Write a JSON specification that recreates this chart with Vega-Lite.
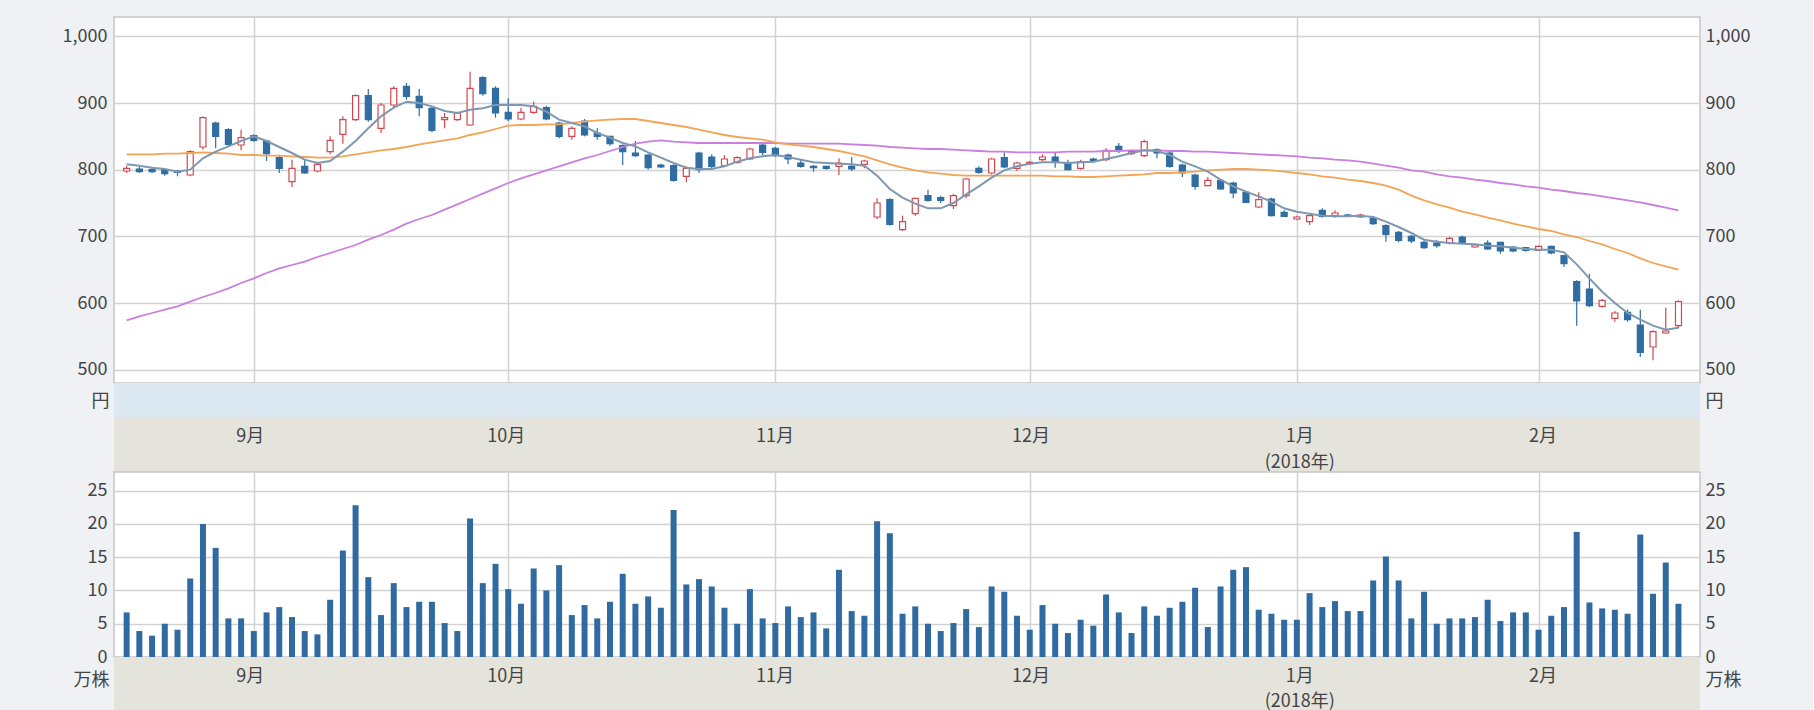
{
"$schema":"https://vega.github.io/schema/vega-lite/v6.json",
"background":"#eff1f5",
"padding":{"left":0,"top":16,"right":0,"bottom":0},
"autosize":{"type":"pad"},
"bounds":"flush",
"spacing":0,
"config":{"font":"Noto Sans CJK JP","axis":{"labelColor":"#444444","titleColor":"#444444","labelFontSize":18,"titleFontSize":18,"titleFontWeight":"normal","labelFont":"Noto Sans CJK JP","titleFont":"Noto Sans CJK JP"}},
"datasets":{
"m":[{"i":10},{"i":30},{"i":51},{"i":71},{"i":92},{"i":111}],
"p":[
{"i":0,"date":"2017-08-18","o":798,"h":806,"l":795,"c":802,"v":6.7,"m5":808,"m25":823,"m75":574},
{"i":1,"date":"2017-08-21","o":801,"h":804,"l":795,"c":797,"v":3.9,"m5":806,"m25":823,"m75":580},
{"i":2,"date":"2017-08-22","o":800,"h":803,"l":795,"c":797,"v":3.2,"m5":803,"m25":823,"m75":585},
{"i":3,"date":"2017-08-23","o":800,"h":802,"l":791,"c":794,"v":5.0,"m5":801,"m25":824,"m75":590},
{"i":4,"date":"2017-08-24","o":798,"h":799,"l":790,"c":796,"v":4.1,"m5":797,"m25":824,"m75":595},
{"i":5,"date":"2017-08-25","o":792,"h":829,"l":790,"c":827,"v":11.8,"m5":800,"m25":825,"m75":602},
{"i":6,"date":"2017-08-28","o":834,"h":880,"l":830,"c":878,"v":20.0,"m5":817,"m25":826,"m75":609},
{"i":7,"date":"2017-08-29","o":870,"h":872,"l":832,"c":850,"v":16.4,"m5":827,"m25":825,"m75":615},
{"i":8,"date":"2017-08-30","o":860,"h":862,"l":835,"c":838,"v":5.8,"m5":835,"m25":824,"m75":622},
{"i":9,"date":"2017-08-31","o":837,"h":860,"l":829,"c":848,"v":5.8,"m5":843,"m25":822,"m75":630},
{"i":10,"date":"2017-09-01","o":851,"h":853,"l":842,"c":844,"v":3.9,"m5":850,"m25":822,"m75":637},
{"i":11,"date":"2017-09-04","o":843,"h":845,"l":813,"c":824,"v":6.7,"m5":843,"m25":821,"m75":645},
{"i":12,"date":"2017-09-05","o":818,"h":820,"l":795,"c":802,"v":7.5,"m5":834,"m25":821,"m75":652},
{"i":13,"date":"2017-09-06","o":782,"h":815,"l":774,"c":802,"v":6.0,"m5":825,"m25":820,"m75":657},
{"i":14,"date":"2017-09-07","o":805,"h":815,"l":794,"c":795,"v":3.9,"m5":815,"m25":819,"m75":662},
{"i":15,"date":"2017-09-08","o":798,"h":812,"l":796,"c":808,"v":3.4,"m5":810,"m25":818,"m75":669},
{"i":16,"date":"2017-09-11","o":827,"h":850,"l":823,"c":844,"v":8.6,"m5":813,"m25":818,"m75":675},
{"i":17,"date":"2017-09-12","o":853,"h":880,"l":839,"c":875,"v":16.0,"m5":827,"m25":820,"m75":681},
{"i":18,"date":"2017-09-13","o":875,"h":913,"l":873,"c":911,"v":22.8,"m5":843,"m25":823,"m75":687},
{"i":19,"date":"2017-09-14","o":911,"h":921,"l":872,"c":875,"v":12.0,"m5":862,"m25":826,"m75":695},
{"i":20,"date":"2017-09-15","o":862,"h":900,"l":855,"c":897,"v":6.3,"m5":880,"m25":829,"m75":702},
{"i":21,"date":"2017-09-19","o":897,"h":925,"l":893,"c":922,"v":11.1,"m5":893,"m25":831,"m75":710},
{"i":22,"date":"2017-09-20","o":925,"h":930,"l":905,"c":910,"v":7.5,"m5":902,"m25":834,"m75":719},
{"i":23,"date":"2017-09-21","o":910,"h":921,"l":880,"c":893,"v":8.3,"m5":900,"m25":838,"m75":726},
{"i":24,"date":"2017-09-22","o":892,"h":894,"l":856,"c":859,"v":8.3,"m5":895,"m25":841,"m75":732},
{"i":25,"date":"2017-09-25","o":875,"h":885,"l":862,"c":878,"v":5.1,"m5":888,"m25":844,"m75":740},
{"i":26,"date":"2017-09-26","o":875,"h":887,"l":873,"c":885,"v":3.9,"m5":885,"m25":847,"m75":748},
{"i":27,"date":"2017-09-27","o":867,"h":947,"l":866,"c":922,"v":20.8,"m5":890,"m25":852,"m75":756},
{"i":28,"date":"2017-09-28","o":938,"h":940,"l":911,"c":914,"v":11.1,"m5":892,"m25":856,"m75":764},
{"i":29,"date":"2017-09-29","o":922,"h":925,"l":878,"c":885,"v":14.0,"m5":897,"m25":861,"m75":772},
{"i":30,"date":"2017-10-02","o":886,"h":907,"l":873,"c":876,"v":10.2,"m5":897,"m25":866,"m75":780},
{"i":31,"date":"2017-10-03","o":876,"h":893,"l":874,"c":886,"v":8.0,"m5":897,"m25":867,"m75":787},
{"i":32,"date":"2017-10-04","o":886,"h":902,"l":884,"c":895,"v":13.3,"m5":895,"m25":867,"m75":793},
{"i":33,"date":"2017-10-05","o":893,"h":896,"l":874,"c":876,"v":10.0,"m5":887,"m25":868,"m75":799},
{"i":34,"date":"2017-10-06","o":870,"h":872,"l":847,"c":850,"v":13.8,"m5":875,"m25":868,"m75":805},
{"i":35,"date":"2017-10-10","o":850,"h":865,"l":845,"c":862,"v":6.3,"m5":870,"m25":870,"m75":811},
{"i":36,"date":"2017-10-11","o":873,"h":876,"l":850,"c":852,"v":7.8,"m5":865,"m25":872,"m75":817},
{"i":37,"date":"2017-10-12","o":855,"h":862,"l":845,"c":850,"v":5.8,"m5":855,"m25":874,"m75":822},
{"i":38,"date":"2017-10-13","o":850,"h":851,"l":836,"c":839,"v":8.3,"m5":848,"m25":875,"m75":828},
{"i":39,"date":"2017-10-16","o":836,"h":838,"l":807,"c":827,"v":12.5,"m5":840,"m25":876,"m75":834},
{"i":40,"date":"2017-10-17","o":825,"h":843,"l":819,"c":821,"v":8.0,"m5":835,"m25":876,"m75":839},
{"i":41,"date":"2017-10-18","o":822,"h":824,"l":800,"c":803,"v":9.1,"m5":826,"m25":873,"m75":842},
{"i":42,"date":"2017-10-19","o":807,"h":809,"l":802,"c":804,"v":7.4,"m5":818,"m25":870,"m75":844},
{"i":43,"date":"2017-10-20","o":806,"h":808,"l":782,"c":784,"v":22.1,"m5":810,"m25":867,"m75":842},
{"i":44,"date":"2017-10-23","o":790,"h":805,"l":781,"c":802,"v":10.9,"m5":803,"m25":864,"m75":841},
{"i":45,"date":"2017-10-24","o":825,"h":827,"l":795,"c":800,"v":11.7,"m5":801,"m25":860,"m75":840},
{"i":46,"date":"2017-10-25","o":819,"h":823,"l":800,"c":805,"v":10.6,"m5":801,"m25":856,"m75":840},
{"i":47,"date":"2017-10-26","o":806,"h":822,"l":804,"c":816,"v":7.4,"m5":805,"m25":852,"m75":840},
{"i":48,"date":"2017-10-27","o":811,"h":820,"l":809,"c":818,"v":5.0,"m5":812,"m25":849,"m75":840},
{"i":49,"date":"2017-10-30","o":816,"h":833,"l":814,"c":831,"v":10.2,"m5":817,"m25":847,"m75":840},
{"i":50,"date":"2017-10-31","o":837,"h":840,"l":822,"c":826,"v":5.8,"m5":820,"m25":845,"m75":840},
{"i":51,"date":"2017-11-01","o":832,"h":834,"l":819,"c":821,"v":5.1,"m5":822,"m25":841,"m75":840},
{"i":52,"date":"2017-11-02","o":822,"h":824,"l":808,"c":816,"v":7.6,"m5":819,"m25":838,"m75":839},
{"i":53,"date":"2017-11-06","o":810,"h":816,"l":803,"c":805,"v":6.0,"m5":815,"m25":836,"m75":839},
{"i":54,"date":"2017-11-07","o":805,"h":807,"l":797,"c":803,"v":6.7,"m5":811,"m25":834,"m75":839},
{"i":55,"date":"2017-11-08","o":805,"h":806,"l":800,"c":802,"v":4.3,"m5":810,"m25":831,"m75":839},
{"i":56,"date":"2017-11-09","o":805,"h":817,"l":792,"c":810,"v":13.1,"m5":809,"m25":828,"m75":839},
{"i":57,"date":"2017-11-10","o":805,"h":819,"l":798,"c":801,"v":6.9,"m5":808,"m25":824,"m75":838},
{"i":58,"date":"2017-11-13","o":808,"h":815,"l":802,"c":813,"v":6.2,"m5":806,"m25":820,"m75":837},
{"i":59,"date":"2017-11-14","o":729,"h":757,"l":726,"c":750,"v":20.4,"m5":791,"m25":814,"m75":836},
{"i":60,"date":"2017-11-15","o":755,"h":757,"l":716,"c":718,"v":18.6,"m5":771,"m25":808,"m75":834},
{"i":61,"date":"2017-11-16","o":710,"h":731,"l":708,"c":722,"v":6.5,"m5":758,"m25":803,"m75":833},
{"i":62,"date":"2017-11-17","o":734,"h":758,"l":731,"c":757,"v":7.6,"m5":749,"m25":799,"m75":832},
{"i":63,"date":"2017-11-20","o":761,"h":770,"l":752,"c":754,"v":5.0,"m5":742,"m25":796,"m75":831},
{"i":64,"date":"2017-11-21","o":758,"h":761,"l":750,"c":754,"v":3.9,"m5":742,"m25":794,"m75":831},
{"i":65,"date":"2017-11-22","o":746,"h":764,"l":741,"c":761,"v":5.1,"m5":750,"m25":792,"m75":830},
{"i":66,"date":"2017-11-24","o":761,"h":788,"l":757,"c":786,"v":7.2,"m5":763,"m25":791,"m75":829},
{"i":67,"date":"2017-11-27","o":802,"h":805,"l":794,"c":796,"v":4.5,"m5":775,"m25":791,"m75":828},
{"i":68,"date":"2017-11-28","o":795,"h":818,"l":793,"c":816,"v":10.6,"m5":788,"m25":791,"m75":827},
{"i":69,"date":"2017-11-29","o":818,"h":826,"l":802,"c":804,"v":9.8,"m5":799,"m25":791,"m75":827},
{"i":70,"date":"2017-11-30","o":802,"h":812,"l":798,"c":810,"v":6.2,"m5":805,"m25":791,"m75":826},
{"i":71,"date":"2017-12-01","o":809,"h":813,"l":807,"c":811,"v":4.1,"m5":809,"m25":791,"m75":826},
{"i":72,"date":"2017-12-04","o":815,"h":823,"l":813,"c":819,"v":7.8,"m5":811,"m25":791,"m75":826},
{"i":73,"date":"2017-12-05","o":819,"h":826,"l":803,"c":812,"v":5.0,"m5":811,"m25":790,"m75":826},
{"i":74,"date":"2017-12-06","o":810,"h":815,"l":799,"c":800,"v":3.6,"m5":810,"m25":790,"m75":827},
{"i":75,"date":"2017-12-07","o":802,"h":815,"l":800,"c":812,"v":5.6,"m5":811,"m25":789,"m75":827},
{"i":76,"date":"2017-12-08","o":816,"h":818,"l":811,"c":813,"v":4.7,"m5":812,"m25":789,"m75":827},
{"i":77,"date":"2017-12-11","o":815,"h":832,"l":813,"c":829,"v":9.4,"m5":816,"m25":790,"m75":828},
{"i":78,"date":"2017-12-12","o":835,"h":840,"l":825,"c":829,"v":6.7,"m5":820,"m25":791,"m75":828},
{"i":79,"date":"2017-12-13","o":824,"h":830,"l":822,"c":827,"v":3.6,"m5":825,"m25":792,"m75":829},
{"i":80,"date":"2017-12-14","o":821,"h":845,"l":819,"c":842,"v":7.6,"m5":829,"m25":793,"m75":829},
{"i":81,"date":"2017-12-15","o":830,"h":832,"l":817,"c":825,"v":6.2,"m5":828,"m25":795,"m75":829},
{"i":82,"date":"2017-12-18","o":825,"h":827,"l":803,"c":805,"v":7.4,"m5":822,"m25":795,"m75":828},
{"i":83,"date":"2017-12-19","o":807,"h":809,"l":789,"c":795,"v":8.3,"m5":812,"m25":796,"m75":828},
{"i":84,"date":"2017-12-20","o":792,"h":794,"l":770,"c":775,"v":10.4,"m5":805,"m25":797,"m75":827},
{"i":85,"date":"2017-12-21","o":776,"h":789,"l":775,"c":784,"v":4.5,"m5":797,"m25":799,"m75":827},
{"i":86,"date":"2017-12-22","o":784,"h":786,"l":770,"c":771,"v":10.6,"m5":785,"m25":800,"m75":826},
{"i":87,"date":"2017-12-25","o":780,"h":782,"l":757,"c":765,"v":13.1,"m5":775,"m25":801,"m75":825},
{"i":88,"date":"2017-12-26","o":766,"h":768,"l":750,"c":751,"v":13.5,"m5":767,"m25":801,"m75":824},
{"i":89,"date":"2017-12-27","o":744,"h":766,"l":742,"c":755,"v":7.1,"m5":760,"m25":800,"m75":823},
{"i":90,"date":"2017-12-28","o":756,"h":758,"l":730,"c":731,"v":6.5,"m5":752,"m25":799,"m75":822},
{"i":91,"date":"2017-12-29","o":736,"h":739,"l":729,"c":730,"v":5.6,"m5":742,"m25":797,"m75":821},
{"i":92,"date":"2018-01-04","o":726,"h":731,"l":724,"c":729,"v":5.6,"m5":737,"m25":795,"m75":820},
{"i":93,"date":"2018-01-05","o":722,"h":733,"l":717,"c":731,"v":9.6,"m5":734,"m25":793,"m75":818},
{"i":94,"date":"2018-01-09","o":739,"h":742,"l":728,"c":730,"v":7.5,"m5":731,"m25":790,"m75":817},
{"i":95,"date":"2018-01-10","o":731,"h":739,"l":728,"c":735,"v":8.4,"m5":730,"m25":788,"m75":815},
{"i":96,"date":"2018-01-11","o":732,"h":734,"l":729,"c":731,"v":6.9,"m5":730,"m25":785,"m75":814},
{"i":97,"date":"2018-01-12","o":729,"h":734,"l":728,"c":732,"v":6.9,"m5":731,"m25":783,"m75":812},
{"i":98,"date":"2018-01-15","o":727,"h":730,"l":717,"c":719,"v":11.5,"m5":729,"m25":780,"m75":809},
{"i":99,"date":"2018-01-16","o":716,"h":718,"l":692,"c":703,"v":15.1,"m5":722,"m25":776,"m75":806},
{"i":100,"date":"2018-01-17","o":706,"h":708,"l":691,"c":694,"v":11.5,"m5":714,"m25":770,"m75":803},
{"i":101,"date":"2018-01-18","o":700,"h":702,"l":690,"c":693,"v":5.8,"m5":705,"m25":761,"m75":799},
{"i":102,"date":"2018-01-19","o":691,"h":693,"l":681,"c":683,"v":9.8,"m5":695,"m25":754,"m75":797},
{"i":103,"date":"2018-01-22","o":690,"h":695,"l":683,"c":686,"v":5.0,"m5":692,"m25":748,"m75":793},
{"i":104,"date":"2018-01-23","o":690,"h":699,"l":688,"c":697,"v":5.8,"m5":690,"m25":743,"m75":790},
{"i":105,"date":"2018-01-24","o":699,"h":701,"l":689,"c":690,"v":5.8,"m5":689,"m25":737,"m75":788},
{"i":106,"date":"2018-01-25","o":684,"h":689,"l":683,"c":687,"v":6.0,"m5":688,"m25":733,"m75":785},
{"i":107,"date":"2018-01-26","o":690,"h":694,"l":680,"c":681,"v":8.6,"m5":686,"m25":728,"m75":783},
{"i":108,"date":"2018-01-29","o":691,"h":692,"l":674,"c":678,"v":5.4,"m5":685,"m25":724,"m75":780},
{"i":109,"date":"2018-01-30","o":684,"h":685,"l":676,"c":678,"v":6.7,"m5":683,"m25":719,"m75":778},
{"i":110,"date":"2018-01-31","o":683,"h":684,"l":677,"c":679,"v":6.7,"m5":681,"m25":715,"m75":775},
{"i":111,"date":"2018-02-01","o":679,"h":686,"l":678,"c":685,"v":4.1,"m5":680,"m25":711,"m75":773},
{"i":112,"date":"2018-02-02","o":685,"h":686,"l":673,"c":675,"v":6.2,"m5":680,"m25":708,"m75":770},
{"i":113,"date":"2018-02-05","o":671,"h":672,"l":654,"c":659,"v":7.5,"m5":676,"m25":703,"m75":768},
{"i":114,"date":"2018-02-06","o":632,"h":634,"l":566,"c":603,"v":18.8,"m5":658,"m25":699,"m75":765},
{"i":115,"date":"2018-02-07","o":621,"h":644,"l":594,"c":596,"v":8.2,"m5":637,"m25":693,"m75":763},
{"i":116,"date":"2018-02-08","o":595,"h":606,"l":593,"c":604,"v":7.3,"m5":617,"m25":688,"m75":760},
{"i":117,"date":"2018-02-09","o":577,"h":588,"l":572,"c":585,"v":7.1,"m5":600,"m25":681,"m75":757},
{"i":118,"date":"2018-02-13","o":586,"h":590,"l":572,"c":575,"v":6.5,"m5":585,"m25":675,"m75":754},
{"i":119,"date":"2018-02-14","o":567,"h":590,"l":519,"c":526,"v":18.4,"m5":575,"m25":667,"m75":751},
{"i":120,"date":"2018-02-15","o":534,"h":559,"l":514,"c":557,"v":9.5,"m5":566,"m25":660,"m75":747},
{"i":121,"date":"2018-02-16","o":555,"h":593,"l":554,"c":558,"v":14.2,"m5":560,"m25":655,"m75":743},
{"i":122,"date":"2018-02-19","o":566,"h":604,"l":562,"c":602,"v":8.0,"m5":563,"m25":650,"m75":739}
]},
"vconcat":[
{"width":1586,"height":366,
 "view":{"fill":"#ffffff","stroke":"#c6c6c6","strokeWidth":1.5},
 "data":{"name":"p"},
 "encoding":{"x":{"field":"i","type":"quantitative","scale":{"domain":[-0.6,123.3],"nice":false,"zero":false},"axis":{"values":[10,30,51,71,92,111],"labels":false,"ticks":false,"domain":false,"grid":true,"gridColor":"#d2d2d2","gridWidth":1.5,"title":null}}},
 "layer":[
  {"mark":{"type":"rule","strokeWidth":1.2},
   "encoding":{"y":{"field":"l","type":"quantitative","scale":{"domain":[480,1029],"nice":false,"zero":false},"axis":{"orient":"left","values":[500,600,700,800,900,1000],"format":",.0f","grid":true,"gridColor":"#d2d2d2","gridWidth":1.5,"ticks":false,"domain":false,"labelPadding":7,"title":"円","titleAngle":0,"titleAlign":"right","titleBaseline":"middle","titleX":-5,"titleY":384}},
    "y2":{"field":"h"},
    "color":{"condition":{"test":"datum.c >= datum.o","value":"#d04850"},"value":"#2f6da3"}}},
  {"mark":{"type":"bar","size":6,"strokeWidth":1.2},
   "encoding":{"y":{"field":"o","type":"quantitative","scale":{"domain":[480,1029],"nice":false,"zero":false},"axis":{"orient":"right","values":[500,600,700,800,900,1000],"format":",.0f","grid":false,"ticks":false,"domain":false,"labelPadding":5,"title":"円","titleAngle":0,"titleAlign":"left","titleBaseline":"middle","titleX":5,"titleY":384}},
    "y2":{"field":"c"},
    "fill":{"condition":{"test":"datum.c >= datum.o","value":"#ffffff"},"value":"#2f6da3"},
    "stroke":{"condition":{"test":"datum.c >= datum.o","value":"#d04850"},"value":"#2f6da3"}}},
  {"mark":{"type":"line","color":"#c97fe0","strokeWidth":1.8},"encoding":{"y":{"field":"m75","type":"quantitative","scale":{"domain":[480,1029],"nice":false,"zero":false},"axis":null}}},
  {"mark":{"type":"line","color":"#f2a457","strokeWidth":1.8},"encoding":{"y":{"field":"m25","type":"quantitative","scale":{"domain":[480,1029],"nice":false,"zero":false},"axis":null}}},
  {"mark":{"type":"line","color":"#7d98b0","strokeWidth":2},"encoding":{"y":{"field":"m5","type":"quantitative","scale":{"domain":[480,1029],"nice":false,"zero":false},"axis":null}}}
 ],
 "resolve":{"scale":{"y":"independent"},"axis":{"y":"independent"}}
},
{"width":1586,"height":34,
 "view":{"fill":"#dde9f2","stroke":null},
 "data":{"name":"m"},
 "layer":[
  {"mark":{"type":"rule","opacity":0},"encoding":{"y":{"datum":0,"type":"quantitative","scale":{"domain":[0,1]},"axis":{"orient":"left","offset":114,"labels":false,"ticks":false,"grid":false,"domain":true,"domainOpacity":0,"domainWidth":1,"title":null}}}},
  {"mark":{"type":"rule","opacity":0},"encoding":{"y":{"datum":0,"type":"quantitative","scale":{"domain":[0,1]},"axis":{"orient":"right","offset":113,"labels":false,"ticks":false,"grid":false,"domain":true,"domainOpacity":0,"domainWidth":1,"title":null}}}}
 ],
 "resolve":{"scale":{"y":"independent"},"axis":{"y":"independent"}}
},
{"width":1586,"height":55,
 "view":{"fill":"#e4e4dc","stroke":null},
 "data":{"name":"m"},
 "mark":{"type":"tick","opacity":0},
 "encoding":{"x":{"field":"i","type":"quantitative","scale":{"domain":[-0.6,123.3],"nice":false,"zero":false},"axis":{"orient":"bottom","offset":-55,"values":[10,30,51,71,92,111],"labelExpr":"datum.value == 10 ? '9月' : datum.value == 30 ? '10月' : datum.value == 51 ? '11月' : datum.value == 71 ? '12月' : datum.value == 92 ? ['1月', '(2018年)'] : '2月'","ticks":false,"domain":false,"grid":false,"labelPadding":10,"labelBaseline":"top","labelLineHeight":26,"labelFlush":false,"labelOverlap":false,"title":null}}}
},
{"width":1586,"height":185,
 "view":{"fill":"#ffffff","stroke":"#c6c6c6","strokeWidth":1.5},
 "data":{"name":"p"},
 "encoding":{"x":{"field":"i","type":"quantitative","scale":{"domain":[-0.6,123.3],"nice":false,"zero":false},"axis":{"values":[10,30,51,71,92,111],"labels":false,"ticks":false,"domain":false,"grid":true,"gridColor":"#d2d2d2","gridWidth":1.5,"title":null}}},
 "layer":[
  {"mark":{"type":"bar","size":6,"color":"#2f6ba1"},
   "encoding":{"y":{"field":"v","type":"quantitative","scale":{"domain":[0,27.8],"nice":false},"axis":{"orient":"left","values":[0,5,10,15,20,25],"format":"d","grid":true,"gridColor":"#d2d2d2","gridWidth":1.5,"ticks":false,"domain":false,"labelPadding":7,"title":"万株","titleAngle":0,"titleAlign":"right","titleBaseline":"middle","titleX":-5,"titleY":208}}}},
  {"mark":{"type":"bar","size":6,"opacity":0},
   "encoding":{"y":{"field":"v","type":"quantitative","scale":{"domain":[0,27.8],"nice":false},"axis":{"orient":"right","values":[0,5,10,15,20,25],"format":"d","grid":false,"ticks":false,"domain":false,"labelPadding":5,"title":"万株","titleAngle":0,"titleAlign":"left","titleBaseline":"middle","titleX":5,"titleY":208}}}}
 ],
 "resolve":{"scale":{"y":"independent"},"axis":{"y":"independent"}}
},
{"width":1586,"height":53,
 "view":{"fill":"#e4e4dc","stroke":null},
 "data":{"name":"m"},
 "mark":{"type":"tick","opacity":0},
 "encoding":{"x":{"field":"i","type":"quantitative","scale":{"domain":[-0.6,123.3],"nice":false,"zero":false},"axis":{"orient":"bottom","offset":-53,"values":[10,30,51,71,92,111],"labelExpr":"datum.value == 10 ? '9月' : datum.value == 30 ? '10月' : datum.value == 51 ? '11月' : datum.value == 71 ? '12月' : datum.value == 92 ? ['1月', '(2018年)'] : '2月'","ticks":false,"domain":false,"grid":false,"labelPadding":10,"labelBaseline":"top","labelLineHeight":25,"labelFlush":false,"labelOverlap":false,"title":null}}}
}
]
}
